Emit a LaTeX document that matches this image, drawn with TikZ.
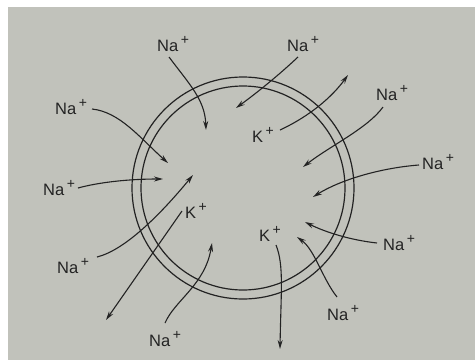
\documentclass[tikz,border=0pt]{standalone}
\usepackage{fontspec}
\setmainfont{Liberation Sans}
\usetikzlibrary{arrows.meta}
\definecolor{bg}{RGB}{193,194,187}
\definecolor{ink}{RGB}{35,35,35}
\newcommand{\ionlbl}[1]{#1\hspace{2.5pt}\raisebox{7pt}{\fontsize{14}{14}\selectfont +}}
\tikzset{
  ion/.style={anchor=base west, inner sep=0pt, text=ink, font=\fontsize{16.5}{18}\selectfont},
  flow/.style={draw=ink, line width=1.1pt, -{Stealth[length=9pt,width=5pt]}},
  membrane/.style={draw=ink, line width=1.2pt}
}
\begin{document}
\begin{tikzpicture}[x=1pt,y=-1pt]
\useasboundingbox (0,0) rectangle (475,360);
\fill[white] (0,0) rectangle (475,360);
\fill[bg] (8,7) rectangle (475,360);
% membrane
\coordinate (c) at (243,188);
\draw[membrane] (c) circle[radius=111];
\draw[membrane] (c) circle[radius=102];
% labels
\node[ion] (na1) at (157,51) {\ionlbl{Na}};
\node[ion] (na2) at (55,114) {\ionlbl{Na}};
\node[ion] (na3) at (287,51) {\ionlbl{Na}};
\node[ion] (na4) at (376,100) {\ionlbl{Na}};
\node[ion] (na5) at (422,169) {\ionlbl{Na}};
\node[ion] (na6) at (383,250) {\ionlbl{Na}};
\node[ion] (na7) at (327,320) {\ionlbl{Na}};
\node[ion] (na8) at (149,346) {\ionlbl{Na}};
\node[ion] (na9) at (57,273) {\ionlbl{Na}};
\node[ion] (na10) at (43,195) {\ionlbl{Na}};
\node[ion] (k1) at (252,142) {\ionlbl{K}};
\node[ion] (k2) at (185,218) {\ionlbl{K}};
\node[ion] (k3) at (259,241) {\ionlbl{K}};
% arrow ends
\coordinate (s1) at (169,57);   \coordinate (e1) at (206,130);
\coordinate (s2) at (92,109);   \coordinate (e2) at (168,163);
\coordinate (s3) at (298,57);   \coordinate (e3) at (236,108);
\coordinate (s4) at (383,107);  \coordinate (e4) at (303,167);
\coordinate (s5) at (419,165);  \coordinate (e5) at (313,197);
\coordinate (s6) at (377,243);  \coordinate (e6) at (305,222);
\coordinate (s7) at (337,297);  \coordinate (e7) at (297,237);
\coordinate (s8) at (165,323);  \coordinate (e8) at (212,243);
\coordinate (s9) at (97,257);   \coordinate (e9) at (193,175);
\coordinate (s10) at (78,188);  \coordinate (e10) at (163,179);
\coordinate (sk1) at (280,130); \coordinate (ek1) at (348,75);
\coordinate (sk2) at (182,211); \coordinate (ek2) at (106,320);
\coordinate (sk3) at (276,245); \coordinate (ek3) at (280,349);
% arrows
\draw[flow] (s1) .. controls (190,85) and (205,100) .. (e1);
\draw[flow] (s2) .. controls (120,112) and (140,138) .. (e2);
\draw[flow] (s3) .. controls (280,74) and (258,92) .. (e3);
\draw[flow] (s4) .. controls (368,128) and (330,146) .. (e4);
\draw[flow] (s5) .. controls (380,168) and (340,180) .. (e5);
\draw[flow] (s6) .. controls (350,240) and (325,232) .. (e6);
\draw[flow] (s7) .. controls (322,278) and (315,250) .. (e7);
\draw[flow] (s8) .. controls (175,300) and (205,285) .. (e8);
\draw[flow] (s9) .. controls (125,250) and (160,215) .. (e9);
\draw[flow] (s10) .. controls (100,182) and (130,179) .. (e10);
\draw[flow] (sk1) .. controls (310,116) and (332,97) .. (ek1);
\draw[flow] (sk2) -- (ek2);
\draw[flow] (sk3) .. controls (284,265) and (281,290) .. (ek3);
\end{tikzpicture}
\end{document}
